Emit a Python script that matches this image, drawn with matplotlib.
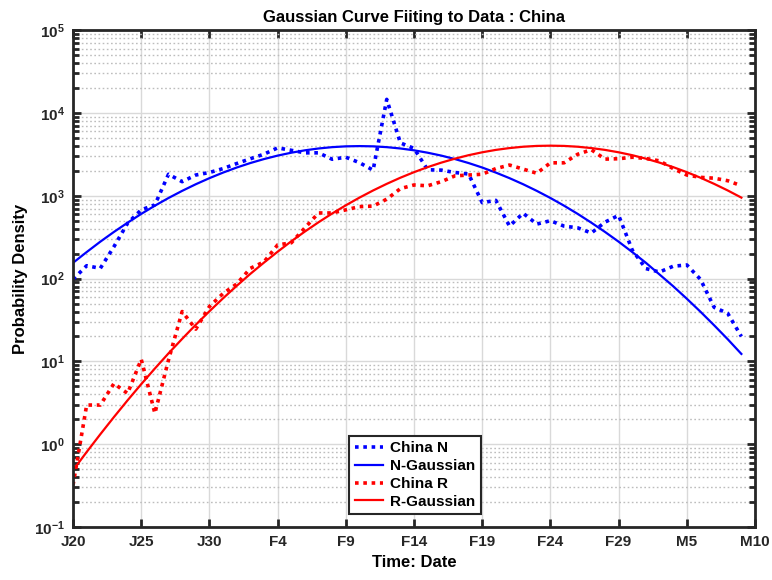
import matplotlib
matplotlib.use('Agg')
import matplotlib.pyplot as plt
import numpy as np
from matplotlib.ticker import LogLocator, NullFormatter

plt.rcParams['font.family'] = ['Liberation Sans', 'DejaVu Sans']
plt.rcParams['font.weight'] = 'bold'
plt.rcParams['mathtext.fontset'] = 'custom'
plt.rcParams['mathtext.bf'] = 'Liberation Sans:bold'
plt.rcParams['mathtext.rm'] = 'Liberation Sans:bold'

# days since Jan 20
days = list(range(50))

china_n = [98, 143, 133, 243, 466, 676, 777, 1820, 1480, 1780,
           1910, 2130, 2450, 2800, 3180, 3790, 3540, 3300, 3300, 2760,
           2920, 2510, 2040, 14600, 4350, 3730, 2060, 2040, 1910, 1830,
           825, 880, 430, 615, 455, 500, 430, 410, 355, 480,
           580, 221, 132, 120, 141, 146, 98, 45, 38, 20]

n_gauss = [155, 209, 279, 366, 473, 604, 759, 940, 1146, 1378,
           1632, 1905, 2193, 2485, 2775, 3055, 3311, 3539, 3725, 3866,
           3953, 3981, 3953, 3866, 3725, 3539, 3311, 3055, 2775, 2485,
           2193, 1905, 1632, 1378, 1146, 940, 759, 604, 473, 366,
           279, 209, 155, 112, 80.8, 57.1, 39.8, 27.3, 18.5, 12.3]

china_r = [0.32, 2.97, 2.97, 5.4, 4.1, 10.6, 2.36, 10.4, 40, 24.5,
           46, 66, 86, 133, 159, 255, 270, 410, 620, 620,
           676, 740, 750, 910, 1220, 1350, 1320, 1480, 1740, 1780,
           1820, 2130, 2350, 2100, 1870, 2500, 2500, 3170, 3600, 2770,
           2800, 2920, 2820, 2640, 2130, 1780, 1670, 1630, 1520, 1320]

r_gauss = [0.484, 0.805, 1.318, 2.128, 3.388, 5.31, 8.20, 12.5, 18.7, 27.7,
           40.3, 57.8, 81.7, 114, 156, 211, 282, 370, 479, 611,
           767, 950, 1159, 1393, 1652, 1928, 2218, 2513, 2806, 3090,
           3350, 3581, 3767, 3911, 3999, 4027, 3999, 3911, 3767, 3581,
           3350, 3090, 2806, 2513, 2218, 1928, 1652, 1393, 1159, 950]

tick_days = [0, 5, 10, 15, 20, 25, 30, 35, 40, 45, 50]
tick_labels = ['J20', 'J25', 'J30', 'F4', 'F9', 'F14', 'F19', 'F24', 'F29', 'M5', 'M10']

fig = plt.figure(figsize=(7.72, 5.80), dpi=100, facecolor='white')
ax = fig.add_axes([0.0946, 0.0914, 0.8834, 0.8566])

dot = (0, (1, 1.3))
ax.plot(days, china_n, color='#0000ff', lw=2.6, linestyle=dot, dash_capstyle='butt', label='China N')
ax.plot(days, n_gauss, color='#0000ff', lw=1.6, label='N-Gaussian')
ax.plot(days, china_r, color='#ff0000', lw=2.6, linestyle=dot, dash_capstyle='butt', label='China R')
ax.plot(days, r_gauss, color='#ff0000', lw=1.6, label='R-Gaussian')

ax.set_yscale('log')
ax.set_ylim(1e-1, 1e5)
ax.set_xlim(0, 50)
ax.set_xticks(tick_days)
ax.set_xticklabels(tick_labels)
ax.set_yticks([10.0 ** e for e in range(-1, 6)])
ax.set_yticklabels([r'$\mathbf{10^{%d}}$' % e for e in range(-1, 6)])
ax.yaxis.set_minor_locator(LogLocator(base=10, subs=np.arange(2, 10), numticks=100))
ax.yaxis.set_minor_formatter(NullFormatter())

ax.grid(True, which='major', axis='both', color='#d9d9d9', lw=1.0, linestyle='-')
ax.grid(True, which='minor', axis='y', color='#bdbdbd', lw=1.0, linestyle=(0, (1.2, 1.8)))
ax.set_axisbelow(True)

for s in ax.spines.values():
    s.set_linewidth(2.0)
    s.set_color('#262626')
ax.tick_params(which='both', direction='in', top=True, right=True, colors='#262626',
               labelsize=11, width=2.0)
ax.tick_params(which='major', length=6, pad=6)
ax.tick_params(which='minor', length=4)

ax.set_title('Gaussian Curve Fiiting to Data : China', fontsize=12, fontweight='bold', pad=6)
ax.set_xlabel('Time: Date', fontsize=12, fontweight='bold', labelpad=4)
ax.set_ylabel('Probability Density', fontsize=12, fontweight='bold', labelpad=4)

leg = ax.legend(loc='lower left', bbox_to_anchor=(0.405, 0.026), fontsize=11, handlelength=1.85,
                fancybox=False, framealpha=1, edgecolor='#262626', borderpad=0.35,
                labelspacing=0.25, handletextpad=0.5, borderaxespad=0)
leg.get_frame().set_linewidth(1.5)

fig.savefig('out.png', dpi=100)
